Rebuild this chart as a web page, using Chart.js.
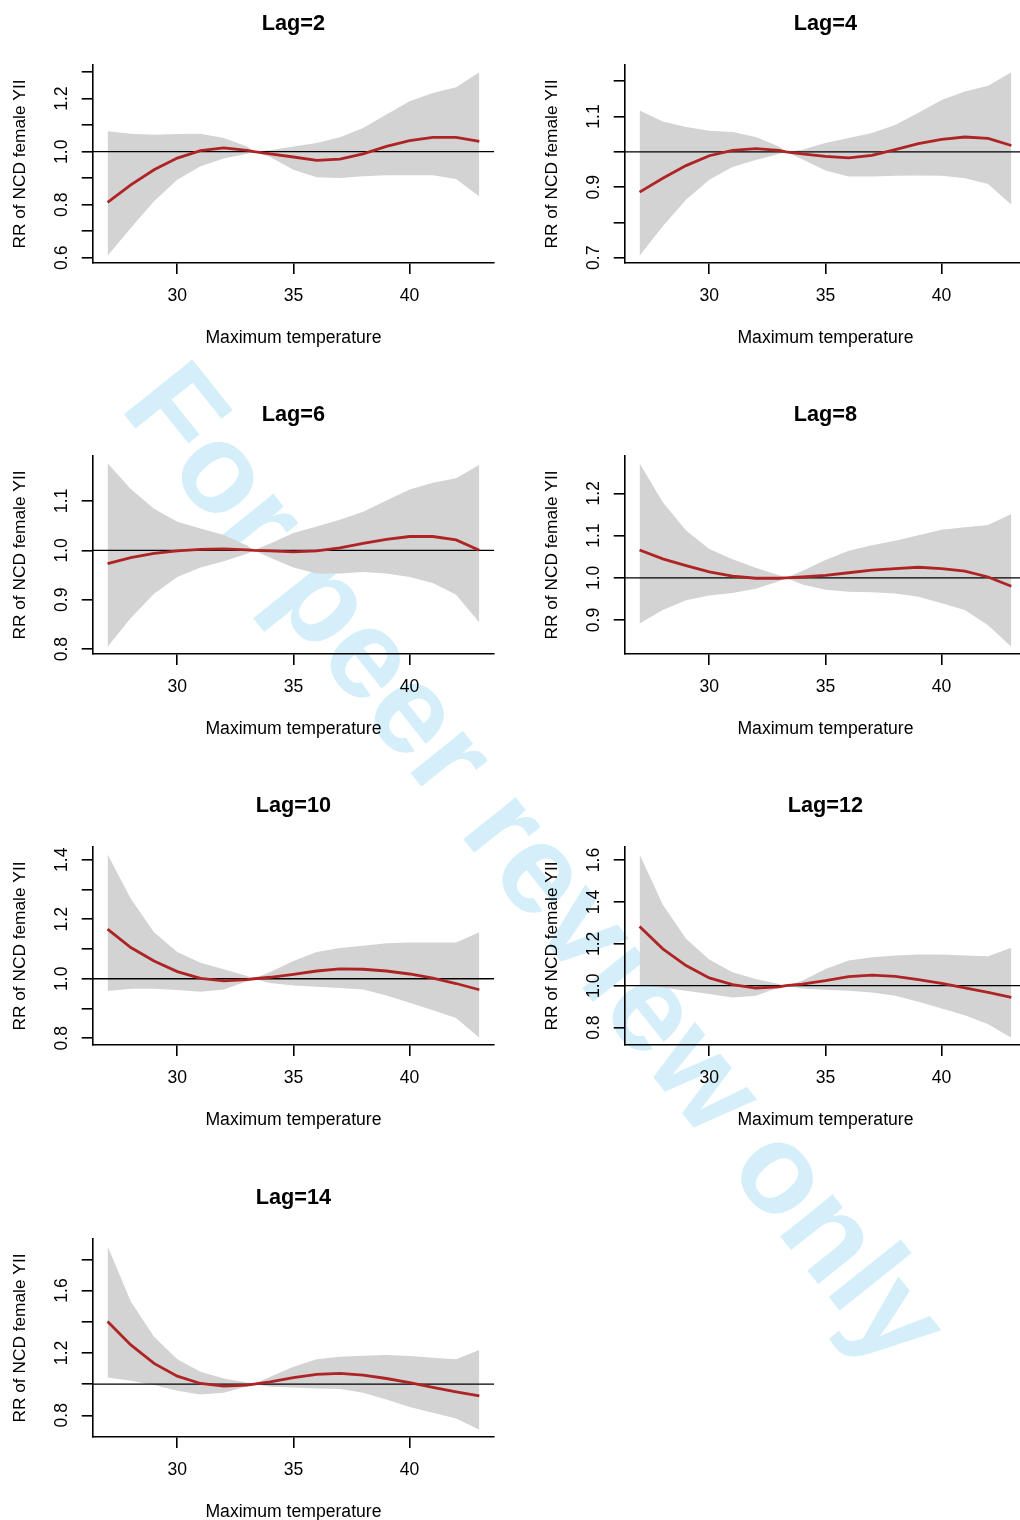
<!DOCTYPE html>
<html>
<head>
<meta charset="utf-8">
<script src="https://cdn.jsdelivr.net/npm/chart.js@4.4.0/dist/chart.umd.min.js"></script>
<style>
  body { margin: 0; background: #fff; }
  #page { position: relative; width: 1020px; height: 1520px; overflow: hidden; background: #fff; }
  .cell { position: absolute; width: 532px; height: 391px; z-index: 1; }
  #wm {
    position: absolute; left: 538px; top: 863px; z-index: 0;
    transform: translate(-50%, -50%) rotate(51.4deg);
    font: bold 127px "Liberation Sans", Arial, sans-serif; line-height: 1;
    color: #d4eefa; white-space: nowrap;
  }
</style>
</head>
<body>
<div id="page">
  <div id="wm">For peer review only</div>
  <div class="cell" style="left:0;top:0"><canvas id="lag2" width="532" height="391"></canvas></div>
  <div class="cell" style="left:532px;top:0"><canvas id="lag4" width="532" height="391"></canvas></div>
  <div class="cell" style="left:0;top:391px"><canvas id="lag6" width="532" height="391"></canvas></div>
  <div class="cell" style="left:532px;top:391px"><canvas id="lag8" width="532" height="391"></canvas></div>
  <div class="cell" style="left:0;top:782px"><canvas id="lag10" width="532" height="391"></canvas></div>
  <div class="cell" style="left:532px;top:782px"><canvas id="lag12" width="532" height="391"></canvas></div>
  <div class="cell" style="left:0;top:1174px"><canvas id="lag14" width="532" height="391"></canvas></div>
</div>
<script>
// temperatures (33.3 = reference, RR = 1)
var temps = [27, 28, 29, 30, 31, 32, 33, 33.3, 34, 35, 36, 37, 38, 39, 40, 41, 42, 43];
var xTicks = [30, 35, 40];

// Lag=2
var rr2 = [0.809, 0.875, 0.932, 0.976, 1.004, 1.014, 1.005, 1.0, 0.992, 0.980, 0.967, 0.972, 0.992, 1.020, 1.042, 1.054, 1.054, 1.039];
var lo2 = [0.608, 0.712, 0.813, 0.894, 0.945, 0.974, 0.992, 1.0, 0.980, 0.932, 0.904, 0.901, 0.907, 0.911, 0.911, 0.911, 0.897, 0.831];
var hi2 = [1.077, 1.068, 1.064, 1.067, 1.068, 1.052, 1.020, 1.0, 1.005, 1.020, 1.033, 1.054, 1.089, 1.140, 1.190, 1.221, 1.243, 1.299];
var yTicks2 = [0.6, 0.7, 0.8, 0.9, 1.0, 1.1, 1.2, 1.3];
var yLabels2 = ['0.6', '0.8', '1.0', '1.2'];

// Lag=4
var rr4 = [0.886, 0.925, 0.961, 0.989, 1.004, 1.009, 1.004, 1.0, 0.994, 0.987, 0.983, 0.990, 1.006, 1.023, 1.035, 1.042, 1.038, 1.018];
var lo4 = [0.706, 0.789, 0.864, 0.921, 0.957, 0.977, 0.994, 1.0, 0.979, 0.947, 0.930, 0.930, 0.932, 0.933, 0.932, 0.925, 0.909, 0.850];
var hi4 = [1.117, 1.086, 1.070, 1.060, 1.056, 1.042, 1.015, 1.0, 1.006, 1.025, 1.039, 1.053, 1.076, 1.111, 1.147, 1.171, 1.187, 1.225];
var yTicks4 = [0.7, 0.8, 0.9, 1.0, 1.1, 1.2];
var yLabels4 = ['0.7', '0.9', '1.1'];

// Lag=6
var rr6 = [0.973, 0.985, 0.994, 0.999, 1.002, 1.003, 1.001, 1.0, 0.999, 0.997, 0.999, 1.005, 1.014, 1.022, 1.028, 1.028, 1.021, 1.000];
var lo6 = [0.805, 0.863, 0.912, 0.946, 0.965, 0.978, 0.993, 1.0, 0.985, 0.965, 0.953, 0.953, 0.956, 0.953, 0.946, 0.934, 0.910, 0.854];
var hi6 = [1.176, 1.124, 1.084, 1.058, 1.044, 1.031, 1.010, 1.0, 1.014, 1.035, 1.048, 1.062, 1.078, 1.101, 1.123, 1.137, 1.146, 1.173];
var yTicks6 = [0.8, 0.9, 1.0, 1.1];
var yLabels6 = ['0.8', '0.9', '1.0', '1.1'];

// Lag=8
var rr8 = [1.066, 1.045, 1.029, 1.014, 1.004, 0.999, 0.999, 1.0, 1.002, 1.006, 1.012, 1.018, 1.022, 1.025, 1.022, 1.016, 1.002, 0.980];
var lo8 = [0.892, 0.924, 0.947, 0.958, 0.964, 0.974, 0.992, 1.0, 0.984, 0.972, 0.967, 0.966, 0.963, 0.955, 0.940, 0.924, 0.888, 0.837];
var hi8 = [1.271, 1.179, 1.112, 1.068, 1.044, 1.024, 1.006, 1.0, 1.016, 1.042, 1.064, 1.077, 1.088, 1.101, 1.114, 1.120, 1.125, 1.151];
var yTicks8 = [0.9, 1.0, 1.1, 1.2];
var yLabels8 = ['0.9', '1.0', '1.1', '1.2'];

// Lag=10
var rr10 = [1.167, 1.105, 1.060, 1.024, 1.001, 0.993, 0.997, 1.0, 1.005, 1.015, 1.026, 1.033, 1.032, 1.026, 1.016, 1.002, 0.984, 0.963];
var lo10 = [0.959, 0.966, 0.966, 0.962, 0.956, 0.964, 0.992, 1.0, 0.986, 0.977, 0.973, 0.969, 0.964, 0.944, 0.919, 0.894, 0.868, 0.802];
var hi10 = [1.418, 1.269, 1.156, 1.090, 1.054, 1.032, 1.009, 1.0, 1.023, 1.060, 1.090, 1.103, 1.111, 1.119, 1.122, 1.122, 1.122, 1.156];
var yTicks10 = [0.8, 0.9, 1.0, 1.1, 1.2, 1.3, 1.4];
var yLabels10 = ['0.8', '1.0', '1.2', '1.4'];

// Lag=12
var rr12 = [1.283, 1.176, 1.096, 1.037, 1.005, 0.989, 0.994, 1.0, 1.008, 1.024, 1.043, 1.051, 1.045, 1.029, 1.011, 0.990, 0.968, 0.944];
var lo12 = [1.003, 0.992, 0.976, 0.960, 0.944, 0.952, 0.992, 1.0, 0.987, 0.981, 0.976, 0.968, 0.952, 0.923, 0.891, 0.859, 0.816, 0.752];
var hi12 = [1.627, 1.387, 1.224, 1.125, 1.064, 1.032, 1.008, 1.0, 1.024, 1.080, 1.120, 1.136, 1.144, 1.149, 1.149, 1.144, 1.141, 1.181];
var yTicks12 = [0.8, 1.0, 1.2, 1.4, 1.6];
var yLabels12 = ['0.8', '1.0', '1.2', '1.4', '1.6'];

// Lag=14
var rr14 = [1.401, 1.251, 1.133, 1.051, 1.004, 0.987, 0.994, 1.0, 1.015, 1.041, 1.062, 1.069, 1.058, 1.036, 1.009, 0.979, 0.951, 0.925];
var lo14 = [1.043, 1.021, 0.994, 0.957, 0.934, 0.944, 0.987, 1.0, 0.983, 0.979, 0.972, 0.968, 0.944, 0.901, 0.854, 0.816, 0.779, 0.708];
var hi14 = [1.883, 1.529, 1.304, 1.159, 1.079, 1.036, 1.011, 1.0, 1.047, 1.111, 1.159, 1.176, 1.182, 1.186, 1.180, 1.169, 1.159, 1.219];
var yTicks14 = [0.8, 1.0, 1.2, 1.4, 1.6, 1.8];
var yLabels14 = ['0.8', '1.2', '1.6'];

Chart.defaults.font.family = '"Liberation Sans", Arial, Helvetica, sans-serif';
Chart.defaults.color = '#000';

function pts(v) {
  return temps.map(function (t, i) { return { x: t, y: v[i] }; });
}

function panel(id, lag, rr, lo, hi, yTicks, yLabels) {
  // R-style 4% axis extension
  var yLow = Math.min.apply(null, lo), yHigh = Math.max.apply(null, hi);
  var yPad = (yHigh - yLow) * 0.04;
  var xPad = (temps[temps.length - 1] - temps[0]) * 0.04;
  var xMin = temps[0] - xPad, xMax = temps[temps.length - 1] + xPad;

  var axisGrid = { drawOnChartArea: false, drawTicks: true, tickLength: 11, color: '#000', lineWidth: 1.6 };
  var axisBorder = { display: true, color: '#000', width: 1.6 };

  new Chart(document.getElementById(id), {
    type: 'line',
    data: {
      datasets: [
        { data: pts(rr), borderColor: '#AE2424', borderWidth: 2.8, pointRadius: 0, fill: false, tension: 0 },
        { data: [{ x: xMin, y: 1 }, { x: xMax, y: 1 }], borderColor: '#000', borderWidth: 1.3, pointRadius: 0, fill: false },
        { data: pts(hi), borderColor: 'transparent', borderWidth: 0, pointRadius: 0, backgroundColor: '#D3D3D3', fill: '+1' },
        { data: pts(lo), borderColor: 'transparent', borderWidth: 0, pointRadius: 0, fill: false }
      ]
    },
    options: {
      responsive: false,
      animation: false,
      devicePixelRatio: 1,
      layout: { padding: { left: 0, top: 0, right: 37.8, bottom: 0 } },
      plugins: {
        legend: { display: false },
        tooltip: { enabled: false },
        title: {
          display: true, text: 'Lag=' + lag, fullSize: false,
          font: { size: 21.7, weight: 'bold' },
          padding: { top: 11, bottom: 28 }
        }
      },
      scales: {
        x: {
          type: 'linear', min: xMin, max: xMax,
          afterBuildTicks: function (s) { s.ticks = xTicks.map(function (v) { return { value: v }; }); },
          afterFit: function (s) { s.height = 128; },
          grid: axisGrid,
          border: axisBorder,
          ticks: { font: { size: 17.6 }, padding: 11.1, autoSkip: false, maxRotation: 0,
            callback: function (v) { return String(v); } },
          title: { display: true, text: 'Maximum temperature', font: { size: 17.6 }, padding: { top: 0, bottom: 42.7 } }
        },
        y: {
          type: 'linear', min: yLow - yPad, max: yHigh + yPad,
          afterBuildTicks: function (s) { s.ticks = yTicks.map(function (v) { return { value: v }; }); },
          afterFit: function (s) { s.width = 92.7; },
          grid: axisGrid,
          border: axisBorder,
          ticks: { font: { size: 17.6 }, padding: 7.5, autoSkip: false, minRotation: 90, maxRotation: 90, crossAlign: 'center',
            callback: function (v) { var t = v.toFixed(1); return yLabels.indexOf(t) >= 0 ? t : ''; } },
          title: { display: true, text: 'RR of NCD female YII', font: { size: 17.3 }, padding: { top: 9.5, bottom: 0 } }
        }
      }
    }
  });
}

panel('lag2', 2, rr2, lo2, hi2, yTicks2, yLabels2);
panel('lag4', 4, rr4, lo4, hi4, yTicks4, yLabels4);
panel('lag6', 6, rr6, lo6, hi6, yTicks6, yLabels6);
panel('lag8', 8, rr8, lo8, hi8, yTicks8, yLabels8);
panel('lag10', 10, rr10, lo10, hi10, yTicks10, yLabels10);
panel('lag12', 12, rr12, lo12, hi12, yTicks12, yLabels12);
panel('lag14', 14, rr14, lo14, hi14, yTicks14, yLabels14);
</script>
</body>
</html>
